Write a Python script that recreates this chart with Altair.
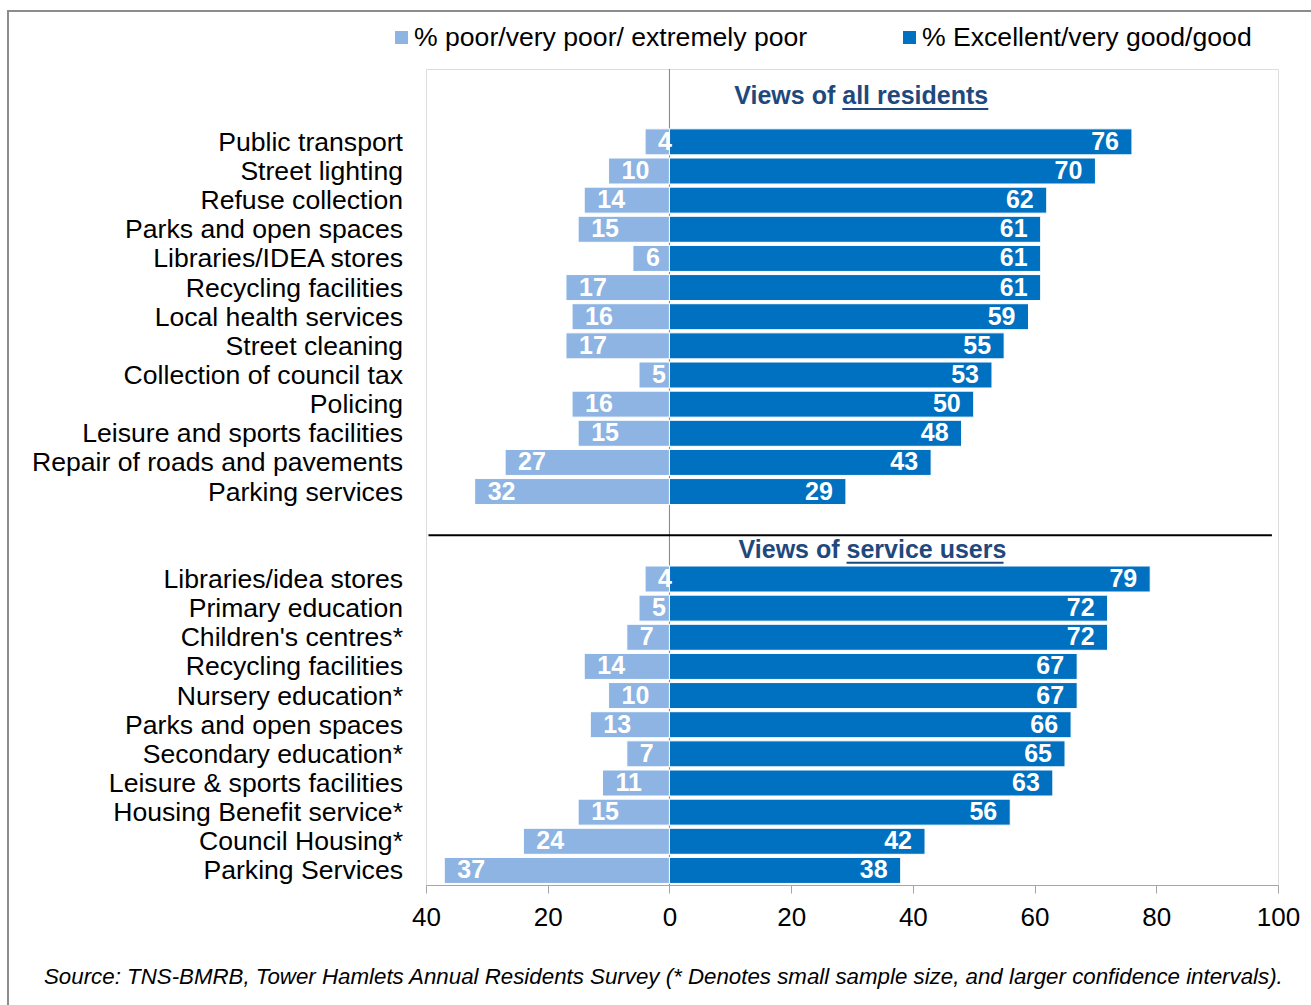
import altair as alt
import pandas as pd

# ---------------- data ----------------
resident_labels = [
    "Public transport", "Street lighting", "Refuse collection", "Parks and open spaces",
    "Libraries/IDEA stores", "Recycling facilities", "Local health services", "Street cleaning",
    "Collection of council tax", "Policing", "Leisure and sports facilities",
    "Repair of roads and pavements", "Parking services",
]
resident_poor = [4, 10, 14, 15, 6, 17, 16, 17, 5, 16, 15, 27, 32]
resident_good = [76, 70, 62, 61, 61, 61, 59, 55, 53, 50, 48, 43, 29]

user_labels = [
    "Libraries/idea stores", "Primary education", "Children's centres*", "Recycling facilities",
    "Nursery education*", "Parks and open spaces", "Secondary education*",
    "Leisure & sports facilities", "Housing Benefit service*", "Council Housing*", "Parking Services",
]
user_poor = [4, 5, 7, 14, 10, 13, 7, 11, 15, 24, 37]
user_good = [79, 72, 72, 67, 67, 66, 65, 63, 56, 42, 38]

legend_labels = ["% poor/very poor/ extremely poor", "% Excellent/very good/good"]
x_ticks = [-40, -20, 0, 20, 40, 60, 80, 100]
source_text = ("Source: TNS-BMRB, Tower Hamlets Annual Residents Survey "
               "(* Denotes small sample size, and larger confidence intervals).")

LIGHT = "#8DB4E2"
DARK = "#0070C0"
NAVY = "#1F497D"
FONT = "Liberation Sans"

rows = list(range(len(resident_labels))) + list(range(15, 15 + len(user_labels)))
df = pd.DataFrame({
    "row": rows,
    "label": resident_labels + user_labels,
    "poor": resident_poor + user_poor,
    "good": resident_good + user_good,
})
df["neg"] = -df["poor"]
df["zero"] = 0

W, H = 852, 816

x_scale = alt.Scale(domain=[-40, 100], nice=False, zero=False, padding=0)
y_scale = alt.Scale(domain=[-2.5, 25.5], reverse=True, nice=False, zero=False, padding=0)
xax = alt.Axis(values=x_ticks, labelExpr="format(abs(datum.value), 'd')", grid=False,
               title=None, domainColor="#A6A6A6", tickColor="#A6A6A6", tickSize=8,
               labelFontSize=26, labelFont=FONT, labelColor="black", labelPadding=11,
               labelFlush=False, labelOverlap=False)


def X(field):
    return alt.X(field, scale=x_scale, axis=xax)


def Y(field):
    return alt.Y(field, scale=y_scale, axis=None)


base = alt.Chart(df)

poor_bars = base.mark_bar(size=26, color=LIGHT, stroke="white", strokeWidth=1).encode(
    x=X("neg:Q"), x2="zero:Q", y=Y("row:Q"))
good_bars = base.mark_bar(size=26, color=DARK, stroke="white", strokeWidth=1).encode(
    x=X("zero:Q"), x2="good:Q", y=Y("row:Q"))

poor_text = base.mark_text(align="left", baseline="middle", dx=13, color="white",
                           fontWeight="bold", fontSize=25, font=FONT).encode(
    x=X("neg:Q"), y=Y("row:Q"), text="poor:Q")
good_text = base.mark_text(align="right", baseline="middle", dx=-13, color="white",
                           fontWeight="bold", fontSize=25, font=FONT).encode(
    x=X("good:Q"), y=Y("row:Q"), text="good:Q")

row_labels = base.mark_text(align="right", baseline="middle", dy=1, fontSize=26.6, font=FONT,
                            color="black").encode(
    x=alt.value(-23), y=Y("row:Q"), text="label:N")

zero_rule = alt.Chart(pd.DataFrame({"x": [0]})).mark_rule(color="#808080", strokeWidth=1).encode(
    x=X("x:Q"), y=alt.value(0), y2=alt.value(H))

sep = alt.Chart(pd.DataFrame({"row": [13.5], "x": [-39.6], "x2": [99]})).mark_rule(
    color="black", strokeWidth=2).encode(x=X("x:Q"), x2="x2:Q", y=Y("row:Q"))

# section titles
titles = pd.DataFrame({
    "row": [-1.30, 14.28],
    "split": [28.4, 29.1],
    "pre": ["Views of", "Views of"],
    "main": ["all residents", "service users"],
    "uline_row": [-1.13, 14.44],
    "uend": [52.4, 54.9],
})
tbase = alt.Chart(titles)
title_pre = tbase.mark_text(align="right", baseline="alphabetic", dx=-7, fontSize=25,
                            fontWeight="bold", font=FONT, color=NAVY).encode(
    x=X("split:Q"), y=Y("row:Q"), text="pre:N")
title_main = tbase.mark_text(align="left", baseline="alphabetic", fontSize=25, fontWeight="bold",
                             font=FONT, color=NAVY).encode(x=X("split:Q"), y=Y("row:Q"), text="main:N")
title_ul = tbase.mark_rule(color=NAVY, strokeWidth=2).encode(
    x=X("split:Q"), x2="uend:Q", y=Y("uline_row:Q"))

# legend (manual)
leg = pd.DataFrame({"label": legend_labels, "color": [LIGHT, DARK],
                    "sx": [-24.5, 483.5], "tx": [-12, 496]})
leg_sq = alt.Chart(leg).mark_square(size=169, opacity=1).encode(
    x=alt.X("sx:Q", scale=None, axis=None), y=alt.value(-31.5),
    color=alt.Color("color:N", scale=None, legend=None))
leg_tx = alt.Chart(leg).mark_text(align="left", baseline="middle", fontSize=26.6, font=FONT,
                                  color="black").encode(
    x=alt.X("tx:Q", scale=None, axis=None), y=alt.value(-31.5), text="label:N")

source = alt.Chart(pd.DataFrame({"t": [source_text]})).mark_text(
    align="left", baseline="middle", fontSize=22.3, fontStyle="italic", font=FONT,
    color="black").encode(x=alt.value(-382), y=alt.value(908), text="t:N")

frame = alt.Chart(pd.DataFrame({"a": [0]})).mark_rect(
    fill="transparent", stroke="#8C8C8C", strokeWidth=2).encode(
    x=alt.value(-418), y=alt.value(-58), x2=alt.value(W + 60), y2=alt.value(H + 200))

chart = alt.layer(
    frame, zero_rule, poor_bars, good_bars, poor_text, good_text, row_labels, sep,
    title_pre, title_main, title_ul, leg_sq, leg_tx, source,
).properties(
    width=W, height=H,
    padding={"left": 426, "top": 69, "right": 33, "bottom": 120},
    autosize=alt.AutoSizeParams(type="none"),
    background="white",
).configure_view(stroke="#A6A6A6", strokeWidth=1).configure(font=FONT)

chart.save("out.html", embed_options={"renderer": "svg", "actions": False})
